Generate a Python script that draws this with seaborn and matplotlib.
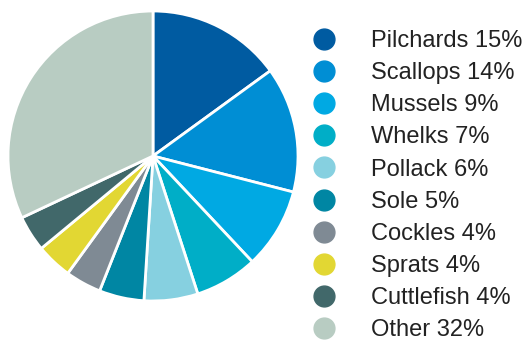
import matplotlib
matplotlib.use("Agg")
import matplotlib.pyplot as plt
from matplotlib.lines import Line2D
import seaborn as sns

categories = ["Pilchards", "Scallops", "Mussels", "Whelks", "Pollack",
              "Sole", "Cockles", "Sprats", "Cuttlefish", "Other"]
values = [15, 14, 9, 7, 6, 5, 4, 4, 4, 32]
colors = ["#005BA1", "#008ED4", "#00A9E3", "#00AEC7", "#86D0E0",
          "#0086A3", "#7F8A94", "#E2D733", "#41686A", "#B8CCC2"]

sns.set_theme(style="white")
plt.rcParams['font.family'] = ['Liberation Sans', 'DejaVu Sans']

W, H = 526, 347
fig = plt.figure(figsize=(W / 100, H / 100), dpi=100)
fig.patch.set_facecolor("white")

cx, cy, r = 153, 156, 145
ax = fig.add_axes([(cx - r) / W, (H - cy - r) / H, 2 * r / W, 2 * r / H])
palette = sns.color_palette(colors)
ax.pie(values, colors=palette, startangle=90, counterclock=False,
       wedgeprops=dict(edgecolor="white", linewidth=2))
ax.set_xlim(-1, 1)
ax.set_ylim(-1, 1)
ax.set_aspect("equal")
ax.axis("off")

handles = [Line2D([0], [0], marker="o", linestyle="", markersize=15,
                  markerfacecolor=c, markeredgecolor=c) for c in palette]
labels = [f"{c} {v}%" for c, v in zip(categories, values)]
leg = fig.legend(handles, labels, loc="upper left",
                 bbox_to_anchor=(312 / W, 1 - 30 / H),
                 frameon=False, fontsize=17, labelspacing=0.43,
                 handlelength=1.0, handletextpad=1.5, borderpad=0,
                 borderaxespad=0)
for t in leg.get_texts():
    t.set_color("#222222")

fig.savefig("out.png", dpi=100, facecolor="white")
